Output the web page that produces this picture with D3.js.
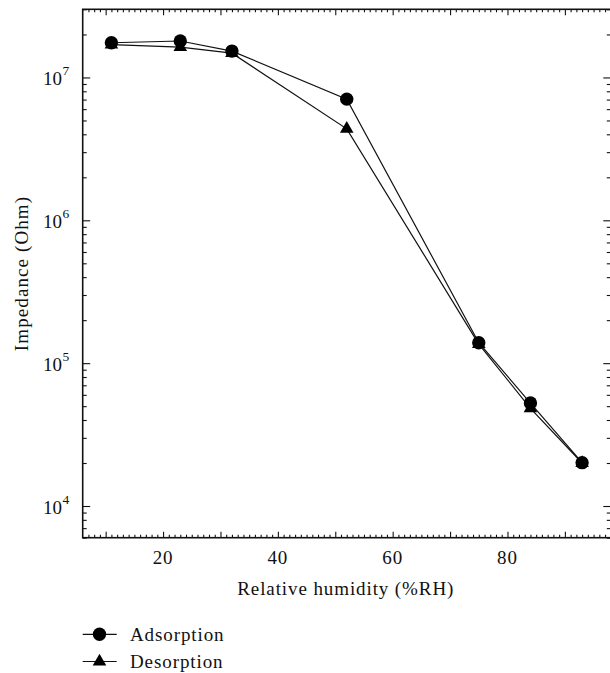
<!DOCTYPE html>
<html>
<head>
<meta charset="utf-8">
<script src="https://cdn.jsdelivr.net/npm/d3@7"></script>
<style>
  html, body { margin: 0; padding: 0; background: #fff; }
  svg { display: block; }
  text { font-family: "Liberation Serif", "Times New Roman", serif; fill: #111; }
</style>
</head>
<body>
<svg id="chart" width="610" height="673"></svg>
<script>
// ---- data ----
const humidity = [11, 23, 32, 52, 75, 84, 93];
const adsorption = [1.75e7, 1.80e7, 1.53e7, 7.05e6, 1.39e5, 5.26e4, 2.01e4];
const desorption = [1.70e7, 1.63e7, 1.48e7, 4.37e6, 1.36e5, 4.83e4, 2.0e4];
const seriesNames = ["Adsorption", "Desorption"];
const xTickLabels = [20, 40, 60, 80];
const yTickExponents = [4, 5, 6, 7];
const xTitle = "Relative humidity (%RH)";
const yTitle = "Impedance (Ohm)";

// ---- layout ----
const pL = 82.7, pR = 610.8, pT = 9.3, pB = 537.7;
const FS = 19, LS = "0.9px";
const svg = d3.select("#chart");
const x = d3.scaleLinear().domain([6, 98]).range([pL, pR]);
const y = d3.scaleLog().domain([6000, 3e7]).range([pB, pT]);

const xMinor = d3.range(7, 98, 1).filter(v => v % 10 !== 0);
const xMajor = d3.range(10, 98, 10);
const yAll = y.ticks();
const yMajor = yAll.filter(v => Math.abs(Math.log10(v) - Math.round(Math.log10(v))) < 1e-9);
const yMinor = yAll.filter(v => !yMajor.includes(v));

function styleAxis(g) {
  g.selectAll(".domain").remove();
  g.selectAll("line").attr("stroke", "#111").attr("stroke-width", 1.1);
  g.selectAll("text").remove();
}

// bottom axis ticks (inward)
svg.append("g").attr("transform", `translate(0,${pB})`)
  .call(d3.axisBottom(x).tickValues(xMinor).tickSize(-3)).call(styleAxis);
svg.append("g").attr("transform", `translate(0,${pB})`)
  .call(d3.axisBottom(x).tickValues(xMajor).tickSize(-6)).call(styleAxis);
// top axis ticks (inward)
svg.append("g").attr("transform", `translate(0,${pT})`)
  .call(d3.axisTop(x).tickValues(xMinor).tickSize(-3)).call(styleAxis);
svg.append("g").attr("transform", `translate(0,${pT})`)
  .call(d3.axisTop(x).tickValues(xMajor).tickSize(-6)).call(styleAxis);
// left axis ticks (inward)
svg.append("g").attr("transform", `translate(${pL},0)`)
  .call(d3.axisLeft(y).tickValues(yMinor).tickSize(-4)).call(styleAxis);
svg.append("g").attr("transform", `translate(${pL},0)`)
  .call(d3.axisLeft(y).tickValues(yMajor).tickSize(-7.5)).call(styleAxis);
// right axis ticks (inward)
svg.append("g").attr("transform", `translate(${pR},0)`)
  .call(d3.axisRight(y).tickValues(yMinor).tickSize(-4)).call(styleAxis);
svg.append("g").attr("transform", `translate(${pR},0)`)
  .call(d3.axisRight(y).tickValues(yMajor).tickSize(-7.5)).call(styleAxis);

// frame
svg.append("rect").attr("x", pL).attr("y", pT)
  .attr("width", pR - pL).attr("height", pB - pT)
  .attr("fill", "none").attr("stroke", "#111").attr("stroke-width", 1.6);

// x tick labels
svg.append("g").selectAll("text").data(xTickLabels).join("text")
  .attr("x", d => x(d)).attr("y", 563.5)
  .attr("text-anchor", "middle").attr("font-size", FS).attr("letter-spacing", LS)
  .text(d => d);

// y tick labels with superscripts
const yl = svg.append("g").selectAll("text").data(yTickExponents).join("text")
  .attr("x", 43).attr("y", d => y(Math.pow(10, d)) + 8)
  .attr("font-size", FS);
yl.append("tspan").text("10");
yl.append("tspan").attr("dx", 0.5).attr("dy", -10.5).attr("font-size", 13.5).text(d => d);

// axis titles
svg.append("text").attr("x", (pL + pR) / 2 - 1).attr("y", 595)
  .attr("text-anchor", "middle").attr("font-size", FS).attr("letter-spacing", LS).text(xTitle);
svg.append("text")
  .attr("transform", `translate(28,${(pT + pB) / 2}) rotate(-90)`)
  .attr("text-anchor", "middle").attr("font-size", FS).attr("letter-spacing", "1.1px").text(yTitle);

// lines and markers
const line = d3.line().x(d => x(d[0])).y(d => y(d[1]));
const adsData = humidity.map((h, i) => [h, adsorption[i]]);
const desData = humidity.map((h, i) => [h, desorption[i]]);
const circ = d3.symbol().type(d3.symbolCircle).size(140);
const tri = d3.symbol().type(d3.symbolTriangle).size(80);

svg.append("path").attr("d", line(desData)).attr("fill", "none")
  .attr("stroke", "#111").attr("stroke-width", 1.2);
svg.append("path").attr("d", line(adsData)).attr("fill", "none")
  .attr("stroke", "#111").attr("stroke-width", 1.2);
svg.append("g").selectAll("path").data(desData).join("path")
  .attr("transform", d => `translate(${x(d[0])},${y(d[1])})`)
  .attr("d", tri).attr("fill", "#000");
svg.append("g").selectAll("path").data(adsData).join("path")
  .attr("transform", d => `translate(${x(d[0])},${y(d[1])})`)
  .attr("d", circ).attr("fill", "#000");

// legend
const legY = [634.3, 661.5];
const lg = svg.append("g");
seriesNames.forEach((name, i) => {
  lg.append("line").attr("x1", 82.7).attr("x2", 116.7)
    .attr("y1", legY[i]).attr("y2", legY[i])
    .attr("stroke", "#111").attr("stroke-width", 1.2);
  lg.append("path").attr("transform", `translate(99.5,${legY[i]})`)
    .attr("d", i === 0 ? circ : tri).attr("fill", "#000");
  lg.append("text").attr("x", 130).attr("y", legY[i] + 6.5)
    .attr("font-size", FS).attr("letter-spacing", LS).text(name);
});
</script>
</body>
</html>
